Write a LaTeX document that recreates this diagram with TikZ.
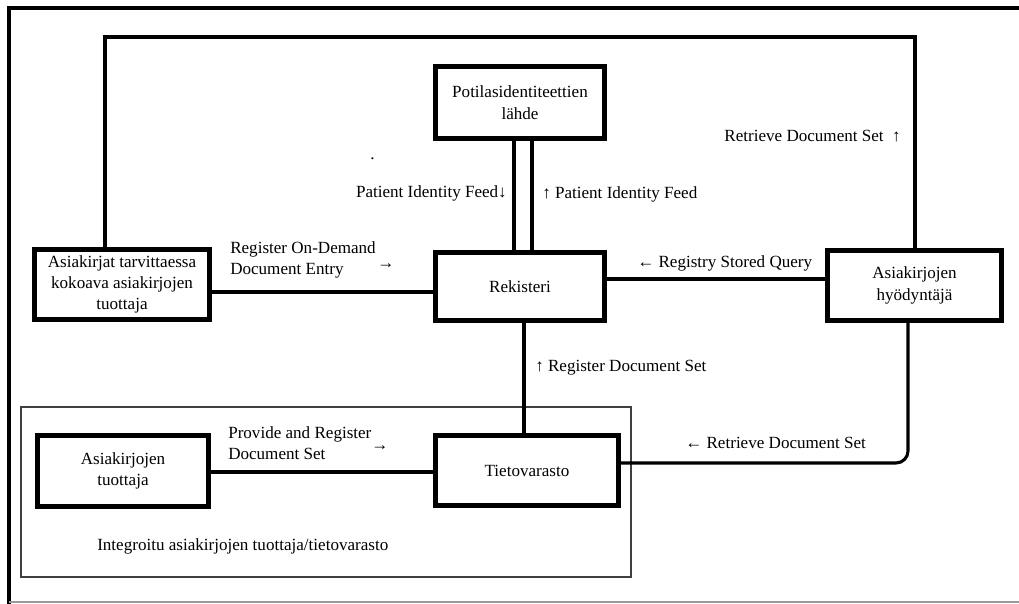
\documentclass[tikz,border=0pt]{standalone}
\usepackage{fontspec}
\setmainfont{Liberation Serif}
\begin{document}
\begin{tikzpicture}[x=0.75pt,y=-0.75pt,
  txt/.style={font={\fontsize{12.8pt}{16.5pt}\selectfont}, inner sep=0pt, align=left},
  box/.style={draw, line width=4.1pt, fill=white, inner sep=0pt, align=center,
    font={\fontsize{12.8pt}{16pt}\selectfont}},
  conn/.style={line width=3pt},
  thinconn/.style={line width=2.3pt}]
\useasboundingbox (0,0) rectangle (1019,603);
% outer frame
\draw[line width=3pt] (9,604) -- (9,8) -- (1019,8);
\draw[line width=0.8pt, black!40] (9,602) -- (1019,602);
% integrated group
\draw[line width=0.8pt, black!75] (21,407) rectangle (631,577);
% nodes
\node[box, minimum width=0.75*168.5pt, minimum height=0.75*71.5pt] (pot) at (520,102.5) {Potilasidentiteettien\\lähde};
\node[box, minimum width=0.75*168.5pt, minimum height=0.75*67.5pt] (rek) at (520,286.5) {Rekisteri};
\node[box, minimum width=0.75*174.5pt, minimum height=0.75*69.5pt] (asiat) at (122,284.5) {Asiakirjat tarvittaessa\\kokoava asiakirjojen\\tuottaja};
\node[box, minimum width=0.75*173.5pt, minimum height=0.75*69.5pt] (hyod) at (914.5,285.5) {Asiakirjojen\\hyödyntäjä};
\node[box, minimum width=0.75*182.5pt, minimum height=0.75*69.5pt] (tieto) at (527,470.5) {Tietovarasto};
\node[box, minimum width=0.75*170.5pt, minimum height=0.75*70.5pt] (tuot) at (123,471) {Asiakirjojen\\tuottaja};
% connector helper coordinates
\coordinate (l1) at (105,37);
\coordinate (l2) at (914.5,37);
\coordinate (ya) at (0,292);
\coordinate (yq) at (0,279);
\coordinate (xp1) at (514,0);
\coordinate (xp2) at (532,0);
\coordinate (xr) at (524,0);
\coordinate (yt) at (0,472);
\coordinate (rc) at (908,463);
% connectors
\draw[conn] (asiat.north -| l1) -- (l1) -- (l2) -- (hyod.north);
\draw[conn] (asiat.east |- ya) -- (rek.west |- ya);
\draw[conn] (rek.east |- yq) -- (hyod.west |- yq);
\draw[conn] (pot.south -| xp1) -- (rek.north -| xp1);
\draw[conn] (pot.south -| xp2) -- (rek.north -| xp2);
\draw[conn] (rek.south -| xr) -- (tieto.north -| xr);
\draw[conn] (tuot.east |- yt) -- (tieto.west |- yt);
\draw[thinconn, rounded corners=9pt] (hyod.south -| rc) -- (rc) -- (tieto.east |- rc);
% labels
\node[txt, anchor=base west] (dot) at (370,159) {.};
\node[txt, anchor=base east] (pif1) at (507,197) {Patient Identity Feed↓};
\node[txt, anchor=base west] (pif2) at (542,198) {↑ Patient Identity Feed};
\node[txt, anchor=base west] (rod1) at (230,253) {Register On-Demand};
\node[txt, anchor=base west] (rod2) at (230,274) {Document Entry};
\node[txt, anchor=base west] (rod3) at (377,268) {→};
\node[txt, anchor=base west] (rsq) at (637,267) {← Registry Stored Query};
\node[txt, anchor=base east] (rds1) at (901,141) {Retrieve Document Set~~↑};
\node[txt, anchor=base west] (regd) at (535,371) {↑ Register Document Set};
\node[txt, anchor=base west] (rds2) at (685,448) {← Retrieve Document Set};
\node[txt, anchor=base west] (prd1) at (228,438) {Provide and Register};
\node[txt, anchor=base west] (prd2) at (228,459) {Document Set};
\node[txt, anchor=base west] (prd3) at (371,450) {→};
\node[txt, anchor=base west] (integ) at (97,550) {Integroitu asiakirjojen tuottaja/tietovarasto};
\end{tikzpicture}
\end{document}
